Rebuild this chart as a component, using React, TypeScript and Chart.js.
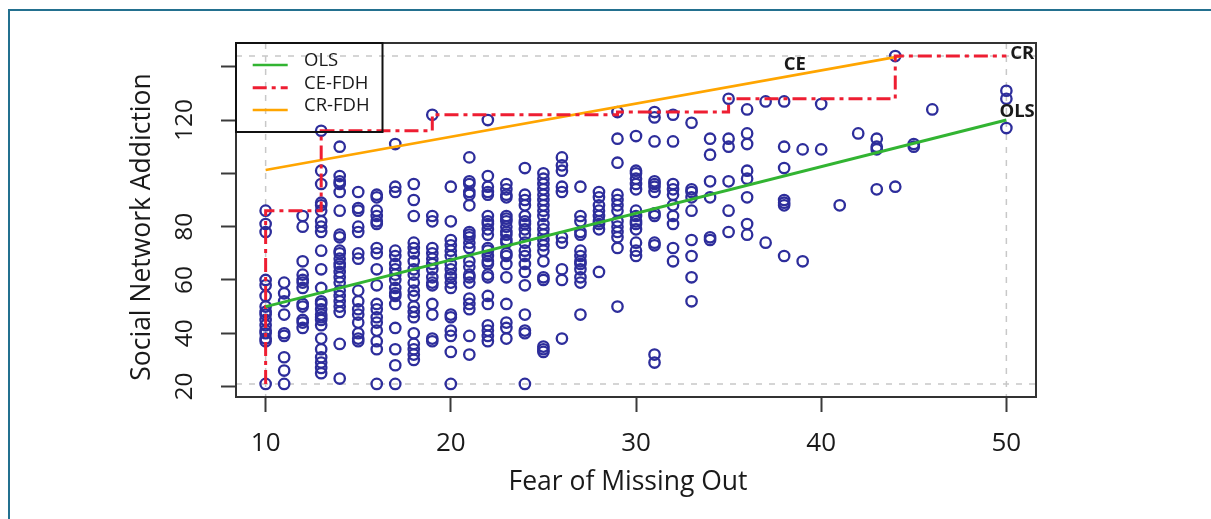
import React, { useEffect, useRef } from "react";
import { Chart, registerables } from "chart.js";

Chart.register(...registerables);

// ---- data ----
const fomoLevels = [
  10, 11, 12, 13, 14, 15, 16, 17, 18, 19, 20, 21, 22, 23, 24, 25, 26, 27, 28, 29,
  30, 31, 32, 33, 34, 35, 36, 37, 38, 39, 40, 41, 42, 43, 44, 45, 46, 50,
];

const snaScores: number[][] = [
  [86, 81, 78, 60, 58, 54, 50, 48, 47, 45, 43, 41, 40, 38, 37, 21],
  [59, 55, 52, 47, 40, 39, 31, 26, 21],
  [84, 80, 67, 62, 60, 59, 57, 51, 50, 45, 44, 42],
  [116, 101, 96, 89, 88, 86, 82, 80, 78, 71, 64, 57, 52, 51, 49, 47, 46, 45, 43, 38, 34, 31, 29, 27, 25],
  [110, 99, 97, 96, 93, 86, 77, 76, 71, 70, 68, 66, 65, 63, 61, 59, 56, 54, 52, 50, 48, 36, 23],
  [93, 87, 86, 80, 78, 70, 68, 56, 52, 49, 47, 44, 40, 38, 37],
  [92, 91, 86, 84, 82, 81, 72, 70, 64, 58, 51, 49, 46, 44, 41, 37, 34, 21],
  [111, 95, 93, 71, 69, 66, 64, 62, 60, 57, 55, 54, 51, 42, 34, 28, 21],
  [96, 90, 84, 74, 72, 70, 67, 64, 62, 59, 56, 54, 50, 48, 46, 40, 36, 34, 32, 30],
  [122, 84, 82, 72, 70, 68, 66, 64, 61, 59, 58, 51, 47, 38, 37],
  [95, 82, 75, 73, 71, 69, 66, 64, 62, 61, 59, 57, 47, 46, 41, 39, 33, 21],
  [106, 97, 96, 93, 92, 88, 78, 77, 76, 74, 72, 67, 65, 62, 61, 59, 53, 51, 49, 39, 32],
  [120, 99, 95, 93, 92, 84, 82, 81, 79, 77, 72, 71, 69, 67, 66, 62, 61, 54, 51, 43, 41, 39, 37],
  [96, 94, 92, 91, 84, 83, 82, 80, 78, 77, 75, 74, 70, 69, 66, 61, 51, 44, 42, 38],
  [102, 92, 90, 88, 84, 82, 81, 79, 77, 74, 71, 69, 66, 63, 58, 47, 41, 40, 21],
  [100, 98, 96, 94, 92, 90, 88, 86, 84, 81, 79, 77, 75, 73, 71, 67, 61, 60, 35, 34, 33],
  [106, 103, 101, 95, 93, 76, 74, 64, 60, 38],
  [95, 84, 82, 78, 77, 71, 69, 67, 66, 64, 61, 59, 47],
  [93, 91, 88, 86, 84, 82, 81, 79, 63],
  [123, 113, 104, 92, 90, 88, 86, 82, 80, 78, 76, 72, 50],
  [114, 101, 100, 98, 96, 94, 86, 84, 82, 81, 79, 74, 71, 69],
  [123, 121, 112, 97, 96, 95, 93, 85, 84, 74, 73, 32, 29],
  [122, 112, 96, 94, 92, 88, 84, 81, 72, 67],
  [119, 94, 93, 91, 86, 75, 69, 61, 52],
  [113, 107, 97, 91, 76, 75],
  [128, 113, 110, 97, 86, 78],
  [124, 115, 111, 101, 98, 91, 81, 77],
  [127, 74],
  [127, 110, 102, 90, 89, 88, 69],
  [109, 67],
  [126, 109],
  [88],
  [115],
  [113, 110, 109, 94],
  [144, 95],
  [111, 110],
  [124],
  [131, 128, 117],
];

const olsX = [10, 50];
const olsY = [50, 120];
const ceFdhX = [10, 10, 13, 13, 19, 19, 29, 29, 35, 35, 44, 44, 50];
const ceFdhY = [21, 86, 86, 116, 116, 122, 122, 123, 123, 128, 128, 144, 144];
const crFdhX = [10, 44.3];
const crFdhY = [101.25, 144];

const xTicks = [10, 20, 30, 40, 50];
const yTicks = [20, 40, 60, 80, 100, 120, 140];
const yTickLabels = [20, 40, 60, 80, 120];
const legendLabels = ["OLS", "CE-FDH", "CR-FDH"];
const curveLabels = ["CE", "CR", "OLS"];
const curveLabelX = [38.57, 50.86, 50.58];
const curveLabelY = [140.6, 145.0, 123.1];

// ---- derived ----
const scatterPoints = fomoLevels.flatMap((fx, i) => snaScores[i].map((v) => ({ x: fx, y: v })));
const allY = scatterPoints.map((p) => p.y);
const xLo = Math.min(...fomoLevels);
const xHi = Math.max(...fomoLevels);
const yLo = Math.min(...allY);
const yHi = Math.max(...allY);
const xMin = xLo - 0.04 * (xHi - xLo);
const xMax = xHi + 0.04 * (xHi - xLo);
const yMin = yLo - 0.04 * (yHi - yLo);
const yMax = yHi + 0.04 * (yHi - yLo);

const toPts = (xs: number[], ys: number[]) => xs.map((x, i) => ({ x, y: ys[i] }));

const GREEN = "rgb(50,180,50)";
const RED = "rgb(238,30,50)";
const ORANGE = "rgb(255,165,0)";
const BLUE = "rgb(45,45,155)";
const RED_DASH = [14, 5, 4, 5];
const FONT = '"Open Sans", "Noto Sans", sans-serif';
const TEXT = "#1a1a1a";

const rPlotPlugin = {
  id: "rPlot",
  beforeDatasetsDraw(chart: any) {
    const { ctx, chartArea: a, scales } = chart;
    const x = scales.x;
    const y = scales.y;
    ctx.save();
    ctx.beginPath();
    ctx.rect(a.left, a.top, a.right - a.left, a.bottom - a.top);
    ctx.clip();
    ctx.strokeStyle = "#c8c8c8";
    ctx.lineWidth = 1.5;
    ctx.setLineDash([6, 7]);
    [yLo, yHi].forEach((v) => {
      const py = y.getPixelForValue(v);
      ctx.beginPath();
      ctx.moveTo(a.left, py);
      ctx.lineTo(a.right, py);
      ctx.stroke();
    });
    [xLo, xHi].forEach((v) => {
      const px = x.getPixelForValue(v);
      ctx.beginPath();
      ctx.moveTo(px, a.top);
      ctx.lineTo(px, a.bottom);
      ctx.stroke();
    });
    ctx.restore();
  },
  afterDraw(chart: any) {
    const { ctx, chartArea: a, scales } = chart;
    const x = scales.x;
    const y = scales.y;
    ctx.save();
    // plot box
    ctx.strokeStyle = "#333";
    ctx.lineWidth = 2;
    ctx.setLineDash([]);
    ctx.strokeRect(a.left, a.top, a.right - a.left, a.bottom - a.top);

    // tick labels
    ctx.fillStyle = TEXT;
    ctx.textAlign = "center";
    ctx.textBaseline = "alphabetic";
    ctx.font = `26px ${FONT}`;
    xTicks.forEach((v) => ctx.fillText(String(v), x.getPixelForValue(v), 451));
    ctx.font = `24.5px ${FONT}`;
    yTickLabels.forEach((v) => {
      ctx.save();
      ctx.translate(191.7, y.getPixelForValue(v));
      ctx.rotate(-Math.PI / 2);
      ctx.fillText(String(v), 0, 0);
      ctx.restore();
    });

    // axis titles
    ctx.font = `26.5px ${FONT}`;
    ctx.fillText("Fear of Missing Out", 628, 490);
    ctx.save();
    ctx.translate(150, 227);
    ctx.rotate(-Math.PI / 2);
    ctx.fillText("Social Network Addiction", 0, 0);
    ctx.restore();

    // legend
    const lx = a.left;
    const ly = a.top;
    ctx.strokeStyle = "#111";
    ctx.lineWidth = 2;
    ctx.strokeRect(lx, ly, 146.5, 89);
    const rowY = [65, 87.7, 110];
    const cols = [GREEN, RED, ORANGE];
    rowY.forEach((ry, i) => {
      ctx.beginPath();
      ctx.strokeStyle = cols[i];
      ctx.lineWidth = i === 1 ? 3 : 2.6;
      ctx.setLineDash(i === 1 ? RED_DASH : []);
      ctx.moveTo(lx + 16.7, ry);
      ctx.lineTo(lx + 51.7, ry);
      ctx.stroke();
    });
    ctx.setLineDash([]);
    ctx.font = `18.5px ${FONT}`;
    ctx.textAlign = "left";
    ctx.fillStyle = TEXT;
    legendLabels.forEach((t, i) => ctx.fillText(t, lx + 68, rowY[i] + 1.2));

    // curve labels
    ctx.font = `bold 18.5px ${FONT}`;
    ctx.textAlign = "center";
    ctx.textBaseline = "middle";
    curveLabels.forEach((t, i) => {
      ctx.fillText(t, x.getPixelForValue(curveLabelX[i]), y.getPixelForValue(curveLabelY[i]));
    });
    ctx.restore();
  },
};

export default function App() {
  const ref = useRef<HTMLCanvasElement>(null);
  useEffect(() => {
    const chart = new Chart(ref.current as HTMLCanvasElement, {
      type: "scatter",
      data: {
        datasets: [
          {
            type: "line",
            label: "OLS",
            data: toPts(olsX, olsY),
            borderColor: GREEN,
            borderWidth: 3,
            pointRadius: 0,
            fill: false,
            tension: 0,
            order: 1,
          } as any,
          {
            type: "line",
            label: "CE-FDH",
            data: toPts(ceFdhX, ceFdhY),
            borderColor: RED,
            borderWidth: 3,
            borderDash: RED_DASH,
            pointRadius: 0,
            fill: false,
            tension: 0,
            order: 2,
          } as any,
          {
            type: "line",
            label: "CR-FDH",
            data: toPts(crFdhX, crFdhY),
            borderColor: ORANGE,
            borderWidth: 2.6,
            pointRadius: 0,
            fill: false,
            tension: 0,
            order: 3,
          } as any,
          {
            type: "scatter",
            label: "data",
            data: scatterPoints,
            pointRadius: 5.2,
            pointBorderWidth: 2.3,
            borderColor: BLUE,
            backgroundColor: "rgba(0,0,0,0)",
            pointBackgroundColor: "rgba(0,0,0,0)",
            pointBorderColor: BLUE,
            order: 10,
          } as any,
        ],
      },
      options: {
        responsive: false,
        animation: false,
        events: [],
        layout: { padding: { left: 0, top: 43, right: 175, bottom: 0 } },
        plugins: { legend: { display: false }, tooltip: { enabled: false } },
        scales: {
          x: {
            type: "linear",
            min: xMin,
            max: xMax,
            afterBuildTicks: (s: any) => {
              s.ticks = xTicks.map((v) => ({ value: v }));
            },
            afterFit: (s: any) => {
              s.height = 122;
            },
            grid: {
              display: true,
              drawOnChartArea: false,
              drawTicks: true,
              tickLength: 15,
              tickWidth: 2,
              tickColor: "#3a3a3a",
            },
            border: { display: false },
            ticks: { display: false },
          },
          y: {
            type: "linear",
            min: yMin,
            max: yMax,
            afterBuildTicks: (s: any) => {
              s.ticks = yTicks.map((v) => ({ value: v }));
            },
            afterFit: (s: any) => {
              s.width = 236;
            },
            grid: {
              display: true,
              drawOnChartArea: false,
              drawTicks: true,
              tickLength: 15,
              tickWidth: 2,
              tickColor: "#3a3a3a",
            },
            border: { display: false },
            ticks: { display: false },
          },
        },
      } as any,
      plugins: [rPlotPlugin],
    });
    return () => chart.destroy();
  }, []);

  return (
    <div
      style={{
        position: "fixed",
        left: 0,
        top: 0,
        width: 1211,
        height: 519,
        background: "#fff",
        overflow: "hidden",
      }}
    >
      <div
        style={{
          position: "absolute",
          left: 8,
          top: 9,
          width: 1300,
          height: 600,
          borderLeft: "2px solid #23708f",
          borderTop: "2px solid #23708f",
        }}
      />
      <canvas
        ref={ref}
        width={1211}
        height={519}
        style={{ position: "absolute", left: 0, top: 0, width: 1211, height: 519 }}
      />
    </div>
  );
}
